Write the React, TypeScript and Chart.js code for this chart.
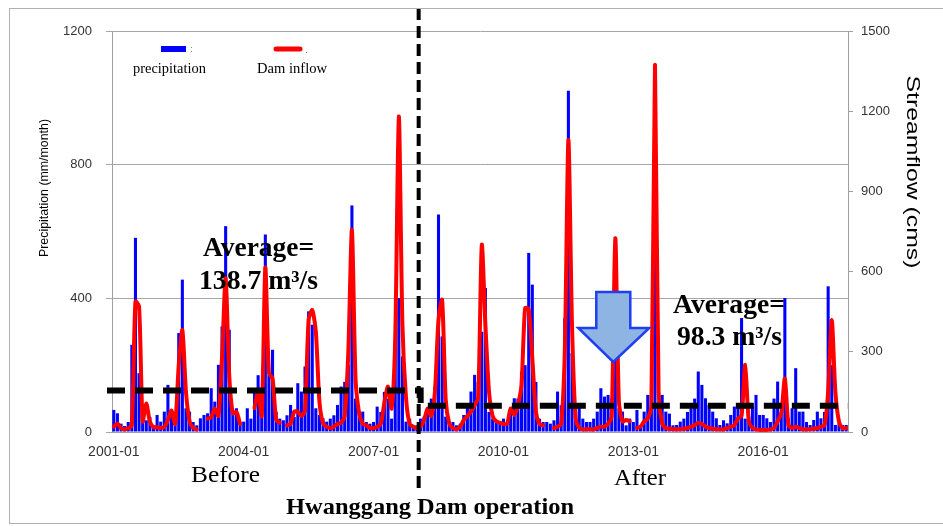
import React, { useEffect, useRef } from 'react';
import { Chart, registerables } from 'chart.js';

Chart.register(...registerables);

// ---------- data ----------
const years = [2001, 2002, 2003, 2004, 2005, 2006, 2007, 2008, 2009, 2010, 2011, 2012, 2013, 2014, 2015, 2016, 2017];
const monthNames = ['01', '02', '03', '04', '05', '06', '07', '08', '09', '10', '11', '12'];
const months: string[] = years.flatMap((y) => monthNames.map((m) => `${y}-${m}`));

const xTickLabels = ['2001-01', '2004-01', '2007-01', '2010-01', '2013-01', '2016-01'];
const leftTicks = [0, 400, 800, 1200];
const rightTicks = [0, 300, 600, 900, 1200, 1500];

// monthly precipitation (mm/month)
const precipitation = [
  66, 56, 25, 18, 30, 261, 581, 176, 61, 35, 45, 20, // 2001
  51, 31, 61, 141, 46, 40, 296, 456, 71, 61, 30, 20, // 2002
  41, 51, 56, 131, 91, 201, 316, 616, 306, 60, 71, 30, // 2003
  31, 71, 40, 130, 170, 120, 591, 171, 246, 61, 40, 35, // 2004
  50, 81, 45, 146, 121, 196, 361, 321, 71, 51, 41, 31, // 2005
  40, 50, 81, 136, 150, 201, 678, 100, 61, 61, 30, 25, // 2006
  30, 76, 60, 120, 100, 40, 271, 401, 226, 31, 40, 20, // 2007
  20, 40, 46, 71, 100, 136, 651, 286, 46, 30, 30, 20, // 2008
  25, 51, 81, 121, 171, 150, 300, 431, 60, 40, 30, 25, // 2009
  40, 30, 71, 101, 100, 181, 200, 536, 441, 150, 40, 30, // 2010
  30, 25, 35, 121, 80, 341, 1021, 236, 50, 81, 40, 30, // 2011
  30, 40, 61, 131, 106, 111, 100, 230, 71, 61, 20, 40, // 2012
  30, 66, 20, 61, 111, 111, 520, 91, 111, 61, 55, 20, // 2013
  21, 31, 40, 60, 71, 100, 181, 141, 101, 81, 61, 41, // 2014
  21, 35, 26, 51, 76, 76, 341, 40, 46, 76, 111, 51, // 2015
  51, 41, 30, 100, 151, 60, 401, 41, 71, 191, 61, 61, // 2016
  30, 21, 36, 61, 41, 60, 436, 200, 21, 26, 21, 21, // 2017
];

// monthly dam inflow (cms); null = missing record
const damInflow: (number | null)[] = [
  20, 32, 14, 10, 14, 25, 488, 470, 40, 107, 39, 18, // 2001
  18, 16, 18, 45, 80, 30, 250, 381, 150, 40, 15, 10, // 2002
  null, null, 50, 55, 88, 60, 280, 575, 210, 70, 75, 30, // 2003
  null, null, null, 90, 150, 60, 615, 220, 200, 45, 35, null, // 2004
  25, 30, 76, 76, 60, 80, 420, 456, 375, 113, 32, 20, // 2005
  15, 20, 30, 35, 60, 300, 756, 200, 70, 30, 25, 15, // 2006
  15, 20, 30, 110, 170, 88, 350, 1180, 400, 126, 30, 20, // 2007
  15, 20, 45, 88, 60, 150, 420, 494, 120, 30, 15, 10, // 2008
  20, 45, 60, 76, 100, 130, 700, 400, 150, 60, 40, 35, // 2009
  30, 30, 88, 64, 100, 176, 463, 460, 275, 76, 30, 25, // 2010
  null, null, 15, 20, 30, 300, 1092, 400, 51, 15, 10, 10, // 2011
  10, 10, 15, 20, 20, 30, 60, 725, 113, 39, 45, 40, // 2012
  null, 15, 20, 40, 50, 100, 1373, 150, 30, 15, 12, 10, // 2013
  10, 10, 12, 15, 20, 25, 35, 30, 20, 15, 12, 10, // 2014
  10, 10, 15, 20, 25, 50, 60, 251, 40, 15, 10, 8, // 2015
  8, 8, 10, 15, 40, 70, 200, 25, 15, 20, 15, 10, // 2016
  10, 10, 12, 15, 20, 25, 150, 419, 150, 39, 14, 14, // 2017
];

const averageLabels = ['138.7', '98.3'];
const averageLevels = [155, 98.3]; // level (right axis, cms) of the dashed average lines
const operationStart = '2008-01'; // dam operation boundary: between this month and the next
const arrowMonth = '2012-08';

// ---------- helpers ----------
function fitText(
  ctx: CanvasRenderingContext2D,
  text: string,
  x: number,
  y: number,
  font: string,
  width: number,
  color = '#000'
) {
  ctx.save();
  ctx.font = font;
  ctx.fillStyle = color;
  ctx.textAlign = 'left';
  ctx.textBaseline = 'alphabetic';
  const w = ctx.measureText(text).width;
  ctx.translate(x, y);
  ctx.scale(width / w, 1);
  ctx.fillText(text, 0, 0);
  ctx.restore();
}

function rotatedText(
  ctx: CanvasRenderingContext2D,
  text: string,
  cx: number,
  cy: number,
  angle: number,
  font: string,
  length: number,
  color = '#000'
) {
  ctx.save();
  ctx.font = font;
  ctx.fillStyle = color;
  ctx.textAlign = 'center';
  ctx.textBaseline = 'middle';
  const w = ctx.measureText(text).width;
  ctx.translate(cx, cy);
  ctx.rotate(angle);
  ctx.scale(length / w, 1);
  ctx.fillText(text, 0, 0);
  ctx.restore();
}

const decorPlugin = {
  id: 'decor',
  afterDatasetsDraw(chart: any) {
    const { ctx, chartArea: a, scales } = chart;
    const xs = scales.x;
    const y2 = scales.y2;
    const bi = months.indexOf(operationStart);
    const xb = (xs.getPixelForValue(bi) + xs.getPixelForValue(bi + 1)) / 2;

    ctx.save();
    // average dashed step line
    const yA = y2.getPixelForValue(averageLevels[0]);
    const yB = y2.getPixelForValue(averageLevels[1]);
    ctx.strokeStyle = '#000';
    ctx.lineWidth = 6;
    ctx.setLineDash([18, 10]);
    ctx.beginPath();
    ctx.moveTo(a.left - 5, yA);
    ctx.lineTo(xb + 2, yA);
    ctx.lineTo(xb + 2, yB);
    ctx.lineTo(a.right, yB);
    ctx.stroke();

    // vertical dam-operation line
    ctx.lineWidth = 4;
    ctx.setLineDash([12, 6]);
    ctx.beginPath();
    ctx.moveTo(xb, 8);
    ctx.lineTo(xb, 492);
    ctx.stroke();
    ctx.setLineDash([]);

    // arrow
    const ax = xs.getPixelForValue(months.indexOf(arrowMonth)) - 2;
    ctx.beginPath();
    ctx.moveTo(ax - 17, 292);
    ctx.lineTo(ax + 17, 292);
    ctx.lineTo(ax + 17, 328);
    ctx.lineTo(ax + 36, 328);
    ctx.lineTo(ax, 362);
    ctx.lineTo(ax - 35, 328);
    ctx.lineTo(ax - 17, 328);
    ctx.closePath();
    ctx.fillStyle = '#8db4e2';
    ctx.fill();
    ctx.strokeStyle = '#1f3ff0';
    ctx.lineWidth = 2.5;
    ctx.lineJoin = 'miter';
    ctx.stroke();

    // legend
    ctx.fillStyle = '#0000ff';
    ctx.fillRect(161, 46, 25, 6);
    ctx.strokeStyle = '#ff0000';
    ctx.lineWidth = 5;
    ctx.lineCap = 'round';
    ctx.beginPath();
    ctx.moveTo(276, 49);
    ctx.lineTo(300, 49);
    ctx.stroke();
    ctx.fillStyle = '#888';
    ctx.fillRect(191, 47, 1, 1);
    ctx.fillRect(191, 51, 1, 1);
    ctx.fillRect(306, 52, 1, 1);
    fitText(ctx, 'precipitation', 133, 73, '14px "Liberation Serif", serif', 73);
    fitText(ctx, 'Dam inflow', 257, 73, '14px "Liberation Serif", serif', 70);

    // average annotations
    const bold27 = 'bold 27px "Liberation Serif", serif';
    fitText(ctx, 'Average=', 203, 256, bold27, 111);
    fitText(ctx, `${averageLabels[0]} m\u00b3/s`, 199, 289, bold27, 119);
    fitText(ctx, 'Average=', 673, 313, bold27, 112);
    fitText(ctx, `${averageLabels[1]} m\u00b3/s`, 677, 345, bold27, 105);

    // period labels
    fitText(ctx, 'Before', 191, 482, '24px "Liberation Serif", serif', 69);
    fitText(ctx, 'After', 614, 485, '24px "Liberation Serif", serif', 52);
    fitText(ctx, 'Hwanggang Dam operation', 286, 514, 'bold 24px "Liberation Serif", serif', 288);

    // axis titles
    rotatedText(ctx, 'Precipitation (mm/month)', 44, 188, -Math.PI / 2, '13px "Liberation Sans", Arial, sans-serif', 138);
    rotatedText(ctx, 'Streamflow (cms)', 912, 172, Math.PI / 2, '18px "Liberation Sans", Arial, sans-serif', 193);

    // outer frame
    ctx.strokeStyle = '#b0b0b0';
    ctx.lineWidth = 1;
    ctx.strokeRect(9.5, 8.5, 945, 515);
    ctx.restore();
  },
};

export default function App() {
  const ref = useRef<HTMLCanvasElement>(null);

  useEffect(() => {
    document.body.style.margin = '0';
    const tickFont = { family: '"Liberation Sans", Arial, sans-serif', size: 13 };
    const plainNumber = (v: any) => String(v);
    const chart = new Chart(ref.current as HTMLCanvasElement, {
      type: 'bar',
      data: {
        labels: months,
        datasets: [
          {
            type: 'line',
            label: 'Dam inflow',
            data: damInflow,
            yAxisID: 'y2',
            borderColor: '#ff0000',
            backgroundColor: '#ff0000',
            borderWidth: 4,
            pointRadius: 0,
            tension: 0.25,
            spanGaps: false,
            borderJoinStyle: 'round',
            borderCapStyle: 'round',
            order: 0,
          } as any,
          {
            type: 'bar',
            label: 'precipitation',
            data: precipitation,
            yAxisID: 'y',
            backgroundColor: '#0000ff',
            categoryPercentage: 1,
            barPercentage: 0.85,
            order: 1,
          },
        ],
      },
      options: {
        responsive: false,
        animation: false,
        devicePixelRatio: 1,
        layout: { padding: { top: 31, left: 0, right: 0, bottom: 0 }, autoPadding: false } as any,
        plugins: { legend: { display: false }, tooltip: { enabled: false } },
        scales: {
          x: {
            offset: true,
            grid: { display: false, drawTicks: false },
            border: { display: true, color: '#a0a0a0' },
            ticks: {
              autoSkip: false,
              maxRotation: 0,
              minRotation: 0,
              padding: 12,
              color: '#333',
              font: { ...tickFont, size: 14 },
              callback: (_v: any, i: number) => (xTickLabels.includes(months[i]) ? months[i] : ''),
            },
            afterFit: (s: any) => {
              s.height = 94;
            },
          },
          y: {
            position: 'left',
            min: leftTicks[0],
            max: leftTicks[leftTicks.length - 1],
            afterBuildTicks: (s: any) => {
              s.ticks = leftTicks.map((v) => ({ value: v }));
            },
            ticks: { padding: 14, color: '#333', font: tickFont, callback: plainNumber },
            grid: { color: '#a6a6a6', tickLength: 6 },
            border: { color: '#a0a0a0' },
            afterFit: (s: any) => {
              s.width = 112;
            },
          },
          y2: {
            position: 'right',
            min: rightTicks[0],
            max: rightTicks[rightTicks.length - 1],
            afterBuildTicks: (s: any) => {
              s.ticks = rightTicks.map((v) => ({ value: v }));
            },
            ticks: { padding: 8, color: '#333', font: tickFont, callback: plainNumber },
            grid: { drawOnChartArea: false, tickLength: 5, color: '#a0a0a0' },
            border: { color: '#a0a0a0' },
            afterFit: (s: any) => {
              s.width = 95;
            },
          },
        },
      } as any,
      plugins: [decorPlugin],
    });
    return () => chart.destroy();
  }, []);

  return (
    <div style={{ position: 'absolute', left: 0, top: 0, width: 943, height: 526, background: '#fff' }}>
      <canvas ref={ref} width={943} height={526} style={{ width: 943, height: 526, display: 'block' }} />
    </div>
  );
}
